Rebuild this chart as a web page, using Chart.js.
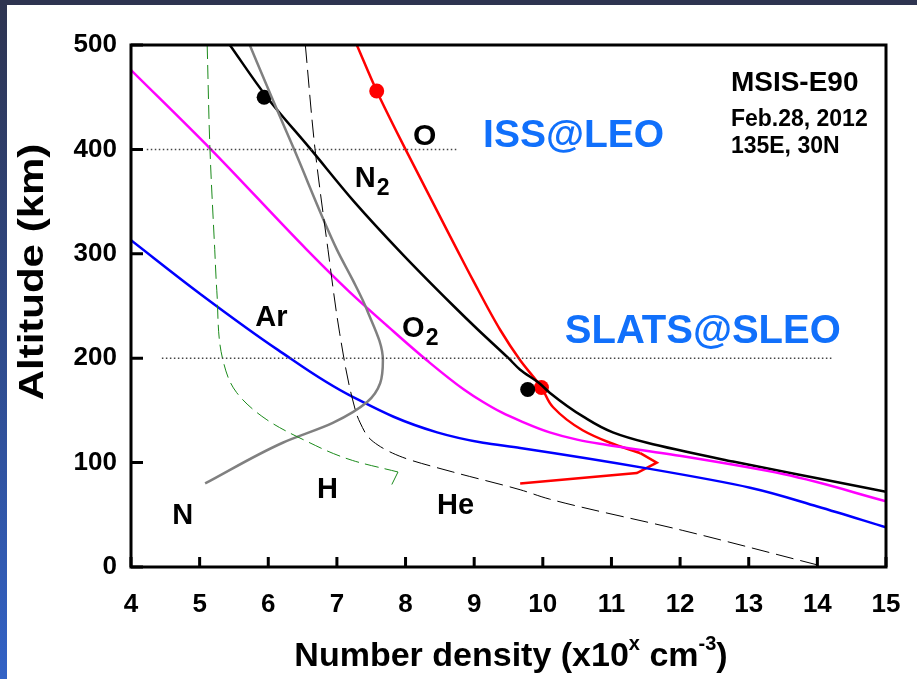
<!DOCTYPE html>
<html><head><meta charset="utf-8">
<script src="https://cdn.jsdelivr.net/npm/chart.js@4.4.1/dist/chart.umd.min.js"></script>
<style>
html,body{margin:0;padding:0;background:#fff;}
#wrap{position:relative;width:917px;height:679px;}
canvas{display:block;}
</style>
</head><body>
<div id="wrap"><canvas id="c" width="917" height="679"></canvas></div>
<script>
// ---------- data (density exponent x, altitude km) ----------
const xTicks = [4,5,6,7,8,9,10,11,12,13,14,15];
const yTicks = [0,100,200,300,400,500];

const denO  = [7.29,7.58,8.00,8.75,8.98,9.38,9.67,9.98,10.15,10.58,10.98,11.42];
const altO  = [500, 456, 400, 304, 275, 227, 198, 172, 153,  131,  119,  109];
const denOlow = [11.42,11.66,11.37,9.67];
const altOlow = [109,  100,  90,   80];

const denN2 = [5.44,5.98,6.62,7.25,7.95,8.70,9.06,9.50,9.67,9.95,10.10,10.59,11.02,11.52,12.77,14.00,15.00];
const altN2 = [500, 450, 400, 350, 300, 250, 227, 200, 189, 176, 167,  144,  129,  119,  101,  85,   72];

const denO2 = [4.00,5.15,6.56,7.16,7.75,8.31,8.85,9.13,9.40,9.67,10.10,10.50,10.83,12.04,13.50,15.00];
const altO2 = [476, 401, 304, 265, 230, 198, 170, 158, 148, 140, 129,  122,  118,  106,  89,   63];

const denAr = [4.00,5.00,6.14,7.23,8.46,9.13,9.67,11.56,13.02,14.00,15.00];
const altAr = [313, 262, 208, 163, 129, 119, 114, 94,   76,   58,   38];

const denN  = [5.73,6.05,6.37,7.00,7.23,7.44,7.67,7.63,7.44,6.94,6.21,5.08];
const altN  = [500, 450, 401, 304, 275, 246, 198, 176, 158, 138, 119, 80];

const denHe = [6.54,6.68,6.87,7.04,7.23,7.34,7.53,7.96,8.69,9.67,10.10,12.04,14.00];
const altHe = [500, 401, 304, 224, 160, 138, 120, 105, 91,  74,  65,   35,   2];

const denH  = [5.11,5.15,5.22,5.25,5.34,5.54,5.98,6.51,7.23,7.89];
const altH  = [500, 401, 304, 265, 198, 167, 141, 122, 102, 91];
const denHhook = [7.89,7.80];
const altHhook = [91,  79];

const issLineDen = [4.23,8.75];   const issLineAlt = [400,400];
const slatsLineDen = [4.45,14.23]; const slatsLineAlt = [200,200];

const dotBlackDen = [5.94,9.78]; const dotBlackAlt = [450,170];
const dotRedDen   = [7.58,9.98]; const dotRedAlt   = [456,172];

function pts(xs, ys){ return xs.map((x,i)=>({x:x, y:ys[i]})); }

// ---------- annotations (text, anchor in data coords: left x, baseline y) ----------
const labels = [
  {t:'O',  sub:'',  x:8.11, y:404, size:30, color:'#000'},
  {t:'N',  sub:'2', x:7.26, y:364, size:29, color:'#000'},
  {t:'Ar', sub:'',  x:5.81, y:231, size:29, color:'#000'},
  {t:'O',  sub:'2', x:7.95, y:220, size:29, color:'#000'},
  {t:'N',  sub:'',  x:4.60, y:41,  size:29, color:'#000'},
  {t:'H',  sub:'',  x:6.71, y:66,  size:29, color:'#000'},
  {t:'He', sub:'',  x:8.46, y:51,  size:29, color:'#000'},
  {t:'ISS@LEO',    sub:'', x:9.13,  y:402, size:39, color:'#1170fb'},
  {t:'SLATS@SLEO', sub:'', x:10.32, y:215, size:40, color:'#1170fb'},
  {t:'MSIS-E90',   sub:'', x:12.74, y:456, size:28, color:'#000'},
  {t:'Feb.28, 2012', sub:'', x:12.74, y:422, size:23, color:'#000'},
  {t:'135E, 30N',  sub:'', x:12.74, y:397, size:23, color:'#000'}
];

const FONT = '"Liberation Sans", Arial, Helvetica, sans-serif';

const decor = {
  id:'decor',
  beforeDraw(chart){
    const ctx = chart.ctx;
    ctx.save();
    const g = ctx.createLinearGradient(0,0,0,679);
    g.addColorStop(0,'#2e3450');
    g.addColorStop(0.5,'#2f4a8a');
    g.addColorStop(1,'#3262c6');
    ctx.fillStyle = g;
    ctx.fillRect(0,0,7,679);
    ctx.fillStyle = '#2e3450';
    ctx.fillRect(0,0,917,5);
    ctx.restore();
  },
  afterDatasetsDraw(chart){
    const ctx = chart.ctx, a = chart.chartArea;
    const xs = chart.scales.x, ys = chart.scales.y;
    ctx.save();
    // frame
    ctx.strokeStyle = '#000';
    ctx.lineWidth = 3;
    ctx.strokeRect(a.left, a.top, a.right - a.left, a.bottom - a.top);
    // inside ticks
    ctx.beginPath();
    xTicks.forEach(v=>{
      const px = xs.getPixelForValue(v);
      ctx.moveTo(px, a.bottom); ctx.lineTo(px, a.bottom - 10);
    });
    yTicks.forEach(v=>{
      const py = ys.getPixelForValue(v);
      ctx.moveTo(a.left, py); ctx.lineTo(a.left + 12, py);
    });
    ctx.stroke();
    // labels
    labels.forEach(l=>{
      const px = xs.getPixelForValue(l.x), py = ys.getPixelForValue(l.y);
      ctx.font = 'bold ' + l.size + 'px ' + FONT;
      ctx.fillStyle = l.color;
      ctx.textAlign = 'left';
      ctx.textBaseline = 'alphabetic';
      ctx.fillText(l.t, px, py);
      if (l.sub){
        const w = ctx.measureText(l.t).width;
        ctx.font = 'bold ' + Math.round(l.size*0.8) + 'px ' + FONT;
        ctx.fillText(l.sub, px + w + 1, py + 8);
      }
    });
    // x axis title with superscripts
    const parts = [
      {t:'Number density (x10', s:34, dy:0},
      {t:'x', s:20, dy:-16},
      {t:' cm', s:34, dy:0},
      {t:'-3', s:20, dy:-16},
      {t:')', s:34, dy:0}
    ];
    let total = 0;
    parts.forEach(p=>{ ctx.font='bold '+p.s+'px '+FONT; p.w = ctx.measureText(p.t).width; total += p.w; });
    let x0 = 511 - total/2;
    const base = 666;
    ctx.fillStyle = '#000';
    ctx.textBaseline = 'alphabetic';
    parts.forEach(p=>{ ctx.font='bold '+p.s+'px '+FONT; ctx.fillText(p.t, x0, base + p.dy); x0 += p.w; });
    // y axis title (rotated)
    ctx.save();
    ctx.translate(33, 272);
    ctx.rotate(-Math.PI/2);
    ctx.scale(1.2, 1);
    ctx.font = 'bold 35px ' + FONT;
    ctx.textAlign = 'center';
    ctx.textBaseline = 'middle';
    ctx.fillText('Altitude (km)', 0, 0);
    ctx.restore();
    ctx.restore();
  }
};

const lineDs = (label, xs, ys, color, width, dash, straight) => ({
  label, data: pts(xs, ys), showLine:true, borderColor:color, backgroundColor:color,
  borderWidth:width, borderDash:dash||[], pointRadius:0, fill:false,
  indexAxis:'y',
  cubicInterpolationMode: straight ? 'default' : 'monotone',
  tension: straight ? 0 : 0.4
});

new Chart(document.getElementById('c'), {
  type:'scatter',
  data:{ datasets:[
    lineDs('ISS line', issLineDen, issLineAlt, '#444', 1.5, [1.5,2.5], true),
    lineDs('SLATS line', slatsLineDen, slatsLineAlt, '#444', 1.5, [1.5,2.5], true),
    lineDs('H', denH, altH, '#1a8a1a', 1, [14,6]),
    lineDs('H hook', denHhook, altHhook, '#1a8a1a', 1, [14,6], true),
    lineDs('He', denHe, altHe, '#000', 1, [18,7]),
    lineDs('N', denN, altN, '#808080', 2.5),
    lineDs('Ar', denAr, altAr, '#0000ff', 2.5),
    lineDs('O2', denO2, altO2, '#ff00ff', 2.5),
    lineDs('N2', denN2, altN2, '#000', 2.5),
    lineDs('O', denO, altO, '#ff0000', 2.5),
    lineDs('O low', denOlow, altOlow, '#ff0000', 2.5, [], true),
    {label:'N2 pts', data:pts(dotBlackDen, dotBlackAlt), pointRadius:7.5, pointBackgroundColor:'#000', pointBorderWidth:0, showLine:false},
    {label:'O pts', data:pts(dotRedDen, dotRedAlt), pointRadius:7.5, pointBackgroundColor:'#ff0000', pointBorderWidth:0, showLine:false}
  ]},
  options:{
    responsive:false, animation:false, devicePixelRatio:1,
    layout:{padding:{top:45, right:31, left:0, bottom:0}},
    plugins:{legend:{display:false}, tooltip:{enabled:false}},
    scales:{
      x:{ type:'linear', min:4, max:15,
        afterBuildTicks(s){ s.ticks = xTicks.map(v=>({value:v})); },
        afterFit(s){ s.height = 112; s.paddingLeft = 0; s.paddingRight = 0; },
        grid:{display:false, drawTicks:false},
        border:{display:false},
        ticks:{ color:'#000', padding:22, font:{family:FONT, size:26, weight:'bold'}, maxRotation:0, autoSkip:false }
      },
      y:{ type:'linear', min:0, max:500,
        afterBuildTicks(s){ s.ticks = yTicks.map(v=>({value:v})); },
        afterFit(s){ s.width = 131; s.paddingTop = 0; s.paddingBottom = 0; },
        grid:{display:false, drawTicks:false},
        border:{display:false},
        ticks:{ color:'#000', padding:14, font:{family:FONT, size:26, weight:'bold'}, autoSkip:false }
      }
    }
  },
  plugins:[decor]
});
</script>
</body></html>
